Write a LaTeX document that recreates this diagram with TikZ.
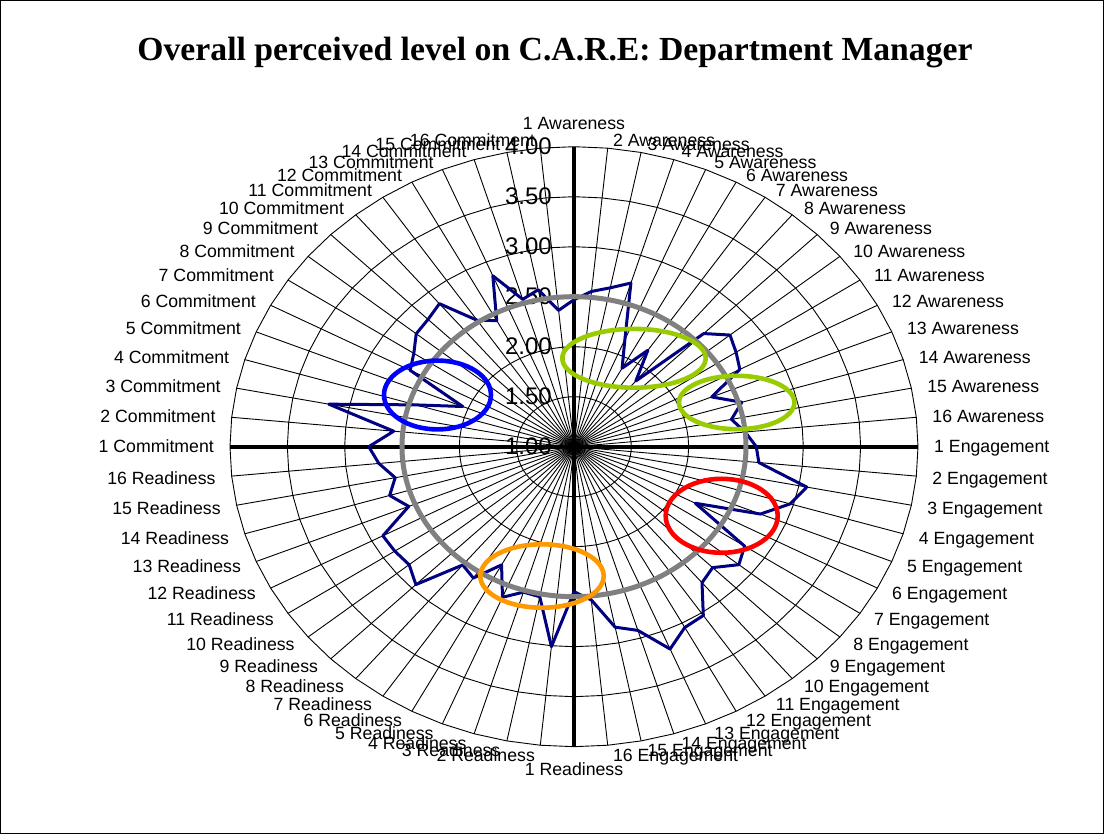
\documentclass[tikz,border=0pt]{standalone}
\usepackage{fontspec}
\setmainfont{Liberation Sans}
\newfontfamily\titlefont{Liberation Serif}
\usepackage{tikz}
\definecolor{navy}{RGB}{0,0,128}
\definecolor{limegreen}{RGB}{153,204,0}
\definecolor{amber}{RGB}{255,153,0}

\begin{document}
\begin{tikzpicture}[x=1pt,y=1pt,
  gridline/.style={line width=0.9pt},
  catlabel/.style={font=\fontsize{17.7}{19}\selectfont, inner sep=0pt, text height=12pt, text depth=0pt},
  vallabel/.style={font=\fontsize{24}{26}\selectfont, inner sep=0pt, anchor=east},
  hoop/.style={line width=4.6pt}]
 \useasboundingbox (-574,-387.3) rectangle (530,446.7);
 \draw[line width=1pt] (-573.5,-386.8) rectangle (529.5,446.2);
 \node[font=\titlefont\bfseries\fontsize{33.7}{36}\selectfont, anchor=base] (title) at (-19,385.7)
   {Overall perceived level on C.A.R.E: Department Manager};
 % spokes and rings
 \coordinate (c) at (0,0);
 \foreach \k in {0,...,63}
   \coordinate (e\k) at ({344*cos(90-5.625*\k)},{300*sin(90-5.625*\k)});
 \foreach \r in {1,...,6}
   \draw[gridline] plot[samples=65, domain=0:360, variable=\t] ({344*\r/6*cos(\t)},{300*\r/6*sin(\t)});
 \foreach \k in {0,...,63}
   \draw[gridline] (c) -- (e\k);
 \draw[line width=4pt] (e48) -- (e16);
 \draw[line width=4pt] (e0) -- (e32);
 \foreach \v [count=\i from 0] in {1.00,1.50,2.00,2.50,3.00,3.50,4.00}
   \node[vallabel] (val\i) at (-22,50*\i) {\v};
 % category labels
 \foreach \grp [count=\g from 0] in {Awareness,Engagement,Readiness,Commitment}
   \foreach \n in {1,...,16} {
     \pgfmathtruncatemacro\k{16*\g+\n-1}
     \pgfmathsetmacro\ct{cos(90-5.625*\k)}
     \pgfmathsetmacro\st{sin(90-5.625*\k)}
     \pgfmathtruncatemacro\anc{\ct>0.01 ? 180 : (\ct<-0.01 ? 0 : (\st>0 ? 270 : 90))}
     \pgfmathsetmacro\dx{abs(\ct)<0.01 ? 0 : 12*\ct+(\ct>0 ? 4 : -4)}
     \pgfmathsetmacro\dy{abs(\ct)<0.01 ? 17*\st : 8*\st-(\st<0 ? 2 : 0)}
     \node[catlabel, anchor=\anc, xshift=\dx, yshift=\dy] (lab\k) at (e\k) {\n\ \grp};
   }
 % the scores
 \foreach \v [count=\k from 0] in {2.47,2.56,2.62,2.71,2.16,1.89,2.16,1.85,2.60,2.76,2.70,2.64,2.30,2.53,2.40,2.50,
     2.59,2.62,3.07,2.97,2.76,2.20,2.79,2.86,2.71,2.76,3.03,3.05,3.19,2.92,2.84,2.54,
     2.45,3.01,2.53,2.52,2.63,2.34,2.58,2.53,2.95,2.86,2.88,2.89,2.56,2.68,2.59,2.71,
     2.79,2.58,3.18,2.44,2.05,2.62,2.68,2.78,2.80,2.85,2.52,2.43,2.85,2.54,2.60,2.37}
   \coordinate (d\k) at ({344*(\v-1)/3*cos(90-5.625*\k)},{300*(\v-1)/3*sin(90-5.625*\k)});
 \draw[navy, line width=3pt, line join=round] (d0) \foreach \k in {1,...,63} {-- (d\k)} -- cycle;
 \draw[gray, line width=5pt] (c) ellipse [x radius=172, y radius=150];
 % highlighted spots
 \draw[hoop, blue] (-136.5,51.7) ellipse [x radius=53.5, y radius=34.4];
 \draw[hoop, limegreen] (60,88.4) ellipse [x radius=71.7, y radius=29.4];
 \draw[hoop, limegreen] (162.7,44.2) ellipse [x radius=57.7, y radius=26.7];
 \draw[hoop, red] (147.7,-69.1) ellipse [x radius=56, y radius=37];
 \draw[hoop, amber] (-32,-129.3) ellipse [x radius=61.7, y radius=31.7];
\end{tikzpicture}
\end{document}
